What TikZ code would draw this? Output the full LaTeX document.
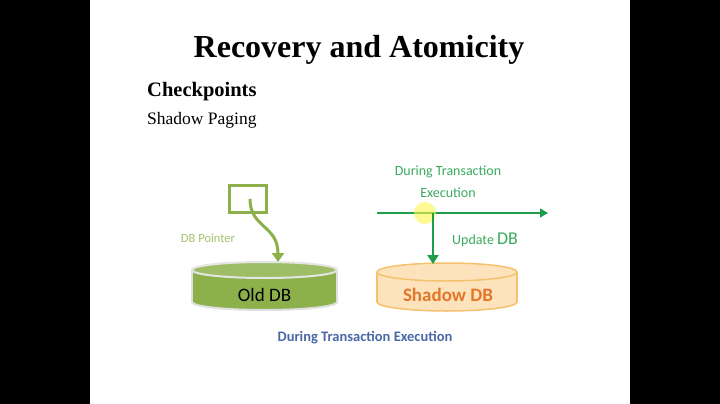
\documentclass[tikz,border=0pt]{standalone}
\usepackage{fontspec}
\setmainfont{Liberation Serif}
\newfontfamily\carl{Carlito}
\usetikzlibrary{arrows.meta}
\definecolor{oldg}{HTML}{8DB14A}
\definecolor{arrg}{HTML}{1E9E4A}
\definecolor{txtg}{HTML}{3BAA5E}
\definecolor{shfill}{HTML}{FDE3BC}
\definecolor{shline}{HTML}{F4C26E}
\definecolor{shtxt}{HTML}{E2772A}
\definecolor{captxt}{HTML}{4A68A6}
\tikzset{
  lbl/.style={font=\carl\fontsize{14}{15}\selectfont, text=txtg, inner sep=0pt},
  garrow/.style={draw=arrg, line width=2.5pt, -{Triangle[length=9pt,width=11pt]}},
}
\begin{document}
\begin{tikzpicture}[x=1pt,y=-1pt]
\useasboundingbox (0,0) rectangle (720,404);
\fill[black] (0,0) rectangle (720,404);
\fill[white] (90,0) rectangle (630,404);
\node[font=\bfseries\fontsize{32}{36}\selectfont, inner sep=0pt] (title) at (359,50) {Recovery and Atomicity};
\node[font=\bfseries\fontsize{20.5}{22}\selectfont, anchor=west, inner sep=0pt] (cp) at (147,92) {Checkpoints};
\node[font=\fontsize{17.5}{19}\selectfont, anchor=west, inner sep=0pt] (sp) at (147,120) {Shadow Paging};
% pointer box
\node[draw=oldg, line width=3pt, minimum width=37pt, minimum height=27pt, inner sep=0pt] (box) at (248,199) {};
\coordinate (pstart) at (250,199);
\node[font=\carl\fontsize{12.5}{13}\selectfont, text=oldg!80, inner sep=0pt] (ptr) at (208,238) {DB Pointer};
% Old DB cylinder
\fill[oldg, draw=gray!25, line width=2pt] (264.5,302) ellipse[x radius=72.5, y radius=8];
\fill[oldg] (192,270) rectangle (337,302);
\draw[gray!25, line width=2pt] (192,270) -- (192,302) (337,270) -- (337,302);
\draw[gray!20, line width=2pt, fill=oldg!85!white] (264.5,270) ellipse[x radius=72.5, y radius=8];
\node[font=\carl\fontsize{19}{20}\selectfont, inner sep=0pt] (old) at (264.5,295) {Old DB};
\coordinate (oldtop) at (278,262);
\draw[oldg, line width=3pt, -{Triangle[length=9pt,width=12pt]}] (pstart) .. controls (250,228) and (278,225) .. (oldtop);
% Shadow DB cylinder
\fill[shfill, draw=shline, line width=1.5pt] (447,302) ellipse[x radius=70, y radius=9];
\fill[shfill] (377,272) rectangle (517,302);
\draw[shline, line width=1.5pt] (377,272) -- (377,302) (517,272) -- (517,302);
\draw[shline, line width=1.5pt, fill=shfill] (447,272) ellipse[x radius=70, y radius=9];
\node[font=\carl\bfseries\fontsize{19}{20}\selectfont, text=shtxt, inner sep=0pt] (shadow) at (448,295) {Shadow DB};
% timeline
\coordinate (t0) at (377,213);
\coordinate (t1) at (548,213);
\coordinate (ts) at (433,213);
\coordinate (shtop) at (433,264);
\draw[draw=arrg, line width=1.5pt, -{Triangle[length=8pt,width=9pt]}] (t0) -- (t1);
\fill[yellow!70, opacity=0.6] (425,213) circle (11);
\draw[garrow] (ts) -- (shtop);
\node[lbl] (dte1) at (448,172) {During Transaction};
\node[lbl] (dte2) at (448,193) {Execution};
\node[lbl, anchor=west, font=\carl\fontsize{14}{15}\selectfont] (upd) at (452,240) {Update \fontsize{18}{19}\selectfont DB};
\node[font=\carl\bfseries\fontsize{14.5}{15}\selectfont, text=captxt, inner sep=0pt] (cap) at (365,338) {During Transaction Execution};
\end{tikzpicture}
\end{document}
